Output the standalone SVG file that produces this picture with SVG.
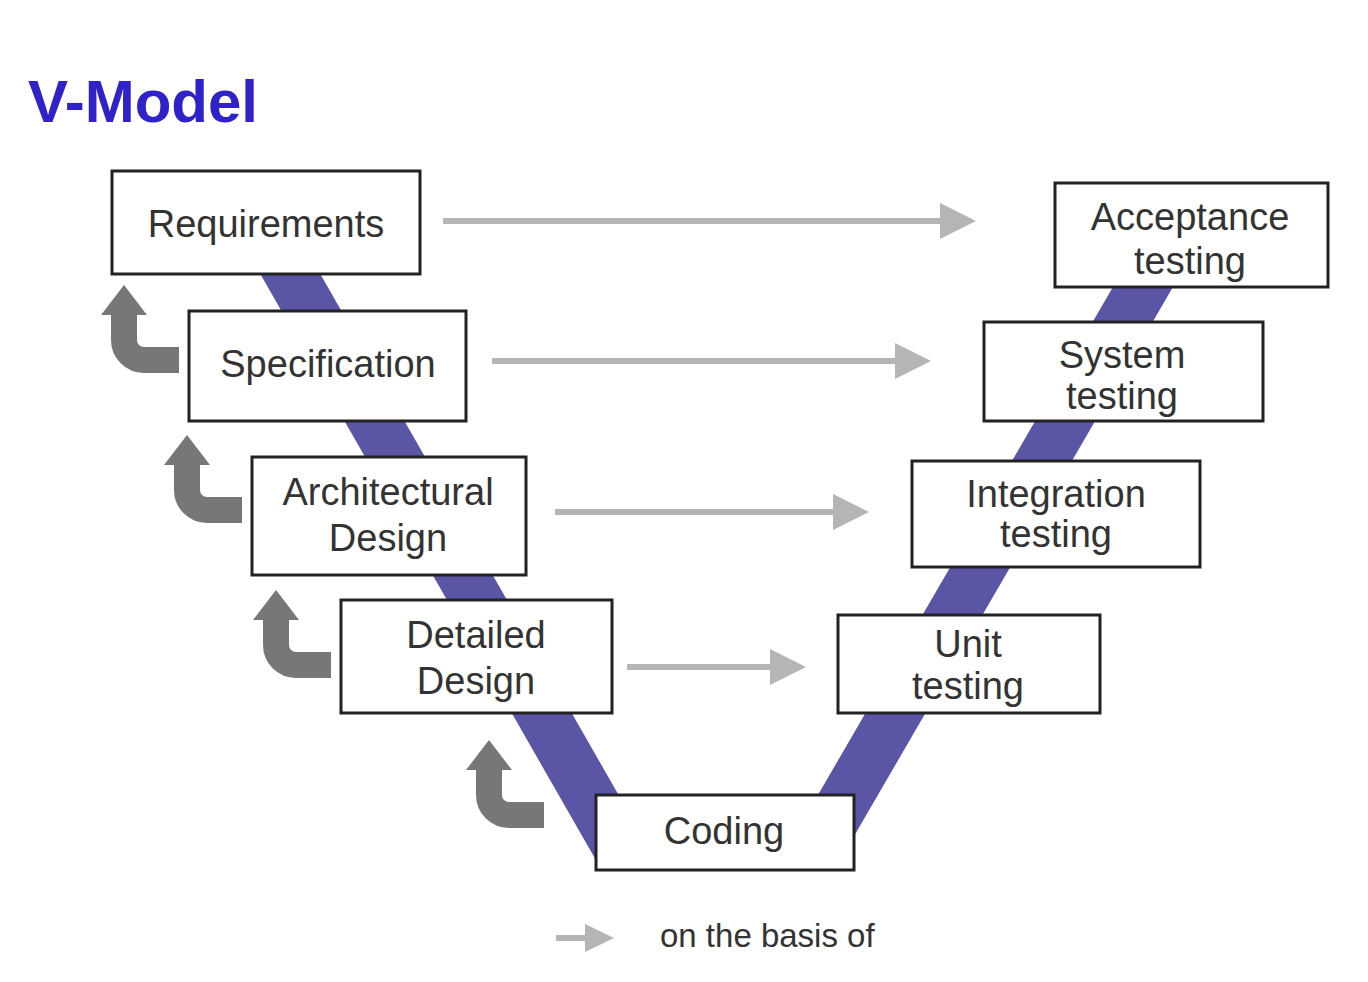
<svg xmlns="http://www.w3.org/2000/svg" width="1368" height="982" viewBox="0 0 1368 982">
<style>
.box{fill:#fff;stroke:#222;stroke-width:3}
.lbl{font-family:"Liberation Sans",Arial,sans-serif;font-size:38px;fill:#333;text-anchor:middle}
.band{fill:#5b55a6}
.hl{stroke:#b5b5b5;stroke-width:6;fill:none}
.hh{fill:#b5b5b5}
.back{stroke:#777;stroke-width:26;fill:none}
.backh{fill:#777}
</style>
<defs>
<g id="backArrow">
<path class="back" d="M 0 0 H -35 A 20 20 0 0 1 -55 -20 V -47"/>
<polygon class="backh" points="-78,-45 -32,-45 -55,-75"/>
</g>
</defs>
<rect width="1368" height="982" fill="#fff"/>
<text x="28" y="122" font-family="'Liberation Sans',Arial,sans-serif" font-weight="bold" font-size="60" fill="#2e22c8">V-Model</text>
<g id="vband">
<polygon class="band" points="258,270 318,270 657,862 597,862"/>
<polygon class="band" points="1117,280 1177,280 839,862 779,862"/>
</g>
<g id="connectors">
<line class="hl" x1="443" y1="221" x2="945" y2="221"/>
<polygon class="hh" points="940,203 976,221 940,239"/>
<line class="hl" x1="492" y1="361" x2="900" y2="361"/>
<polygon class="hh" points="895,343 931,361 895,379"/>
<line class="hl" x1="555" y1="512" x2="838" y2="512"/>
<polygon class="hh" points="833,494 869,512 833,530"/>
<line class="hl" x1="627" y1="667" x2="775" y2="667"/>
<polygon class="hh" points="770,649 806,667 770,685"/>
<use href="#backArrow" transform="translate(179,360)"/>
<use href="#backArrow" transform="translate(242,510)"/>
<use href="#backArrow" transform="translate(331,665)"/>
<use href="#backArrow" transform="translate(544,815)"/>
</g>
<g id="requirements"><rect class="box" x="112" y="171" width="308" height="103"/><text class="lbl" x="266" y="237">Requirements</text></g>
<g id="specification"><rect class="box" x="189" y="311" width="277" height="110"/><text class="lbl" x="328" y="377">Specification</text></g>
<g id="architectural"><rect class="box" x="252" y="457" width="274" height="118"/><text class="lbl" x="388" y="505">Architectural</text><text class="lbl" x="388" y="551">Design</text></g>
<g id="detailed"><rect class="box" x="341" y="600" width="271" height="113"/><text class="lbl" x="476" y="648">Detailed</text><text class="lbl" x="476" y="694">Design</text></g>
<g id="coding"><rect class="box" x="596" y="795" width="258" height="75"/><text class="lbl" x="724" y="844">Coding</text></g>
<g id="unit"><rect class="box" x="838" y="615" width="262" height="98"/><text class="lbl" x="968" y="657">Unit</text><text class="lbl" x="968" y="699">testing</text></g>
<g id="integration"><rect class="box" x="912" y="461" width="288" height="106"/><text class="lbl" x="1056" y="507">Integration</text><text class="lbl" x="1056" y="547">testing</text></g>
<g id="system"><rect class="box" x="984" y="322" width="279" height="99"/><text class="lbl" x="1122" y="368">System</text><text class="lbl" x="1122" y="409">testing</text></g>
<g id="acceptance"><rect class="box" x="1055" y="183" width="273" height="104"/><text class="lbl" x="1190" y="230">Acceptance</text><text class="lbl" x="1190" y="274">testing</text></g>
<g id="legend">
<line class="hl" x1="556" y1="938" x2="590" y2="938"/>
<polygon class="hh" points="585,924 614,938 585,952"/>
<text x="660" y="947" font-family="'Liberation Sans',Arial,sans-serif" font-size="33" fill="#333">on the basis of</text>
</g>
</svg>
